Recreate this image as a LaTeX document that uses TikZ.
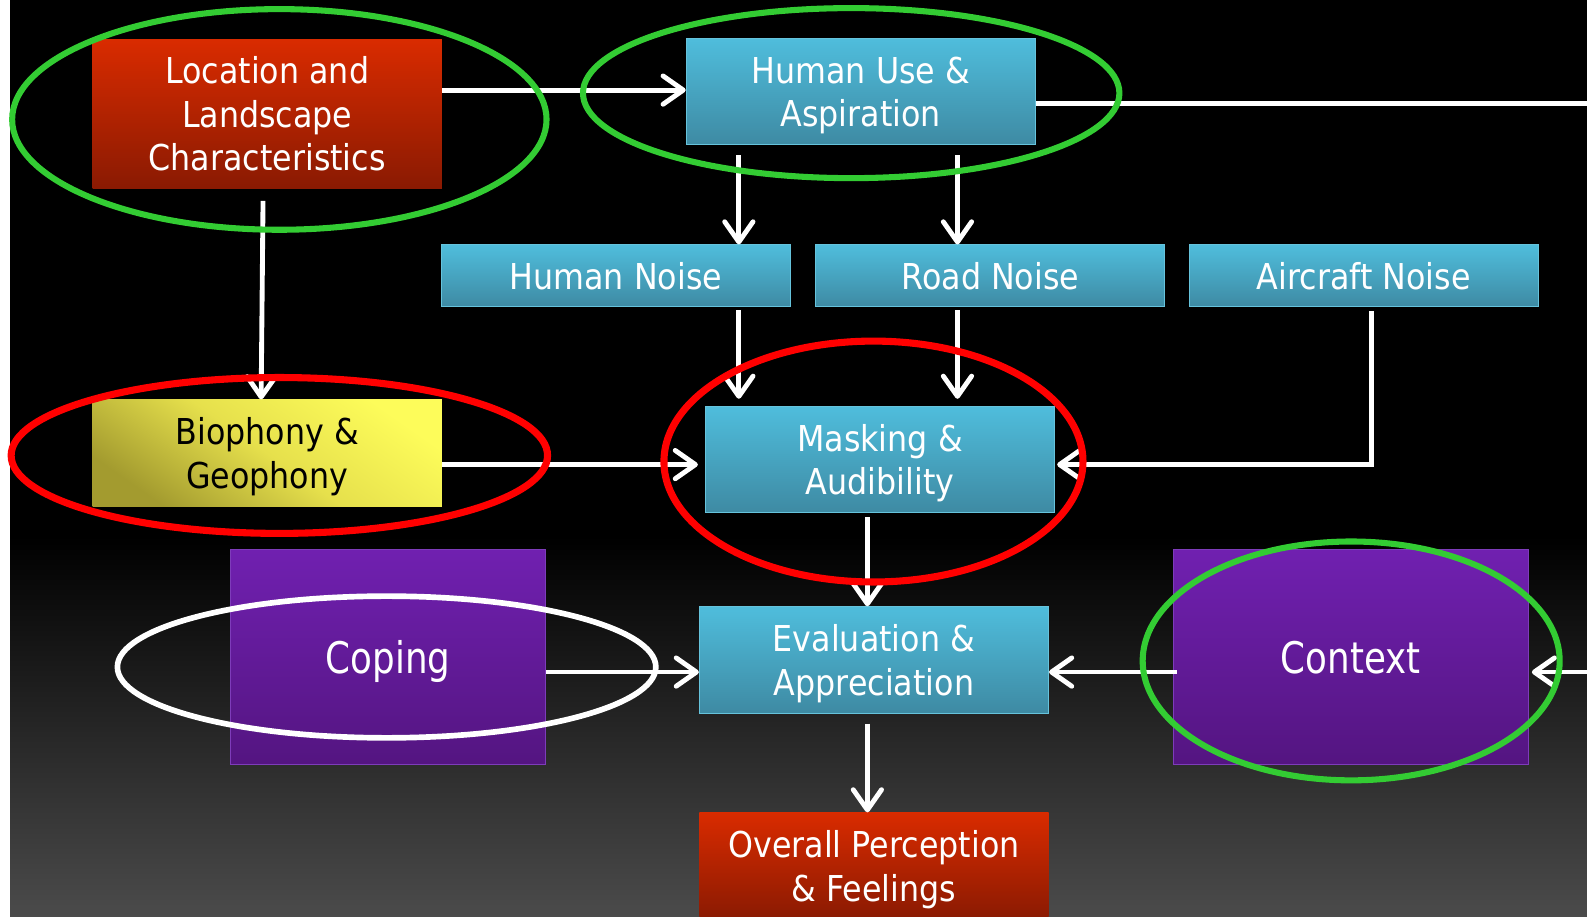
\documentclass[tikz,border=0pt]{standalone}
\usepackage{fontspec}
\setmainfont{DejaVu Sans}[FakeStretch=0.89]
\newfontfamily\bigfont{DejaVu Sans}[FakeStretch=0.82]
\usetikzlibrary{arrows.meta}
\definecolor{redtop}{HTML}{D92B00}
\definecolor{redbot}{HTML}{8A1A02}
\definecolor{bluetop}{HTML}{4FBDDC}
\definecolor{bluebot}{HTML}{3E8AA3}
\definecolor{blueedge}{HTML}{66C3DC}
\definecolor{purtop}{HTML}{7020B0}
\definecolor{purbot}{HTML}{541581}
\definecolor{puredge}{HTML}{7E3CBA}
\definecolor{yellight}{HTML}{FDFC5A}
\definecolor{yelmid}{HTML}{E6E04C}
\definecolor{yeldark}{HTML}{A39B2F}
\definecolor{ringgreen}{HTML}{33CC33}
\definecolor{ringred}{HTML}{FF0000}
\definecolor{bggray}{HTML}{4B4B4B}
\tikzset{
  box/.style={minimum width=172.5pt, minimum height=52.5pt, inner sep=0pt, text depth=0pt,
    align=center, text=white, font=\fontsize{17.6}{21.5}\selectfont},
  bluebox/.style={box, top color=bluetop, bottom color=bluebot, draw=blueedge, line width=0.5pt},
  redbox/.style={box, top color=redtop, bottom color=redbot},
  yelbox/.style={box, text=black, top color=yellight, bottom color=yeldark, middle color=yelmid, shading angle=-35},
  purbox/.style={box, top color=purtop, bottom color=purbot, draw=puredge, line width=0.5pt,
    minimum height=106pt, font=\bigfont\fontsize{21.5}{25}\selectfont},
  conn/.style={draw=white, line width=2.4pt},
  arr/.style={conn, -{Straight Barb[length=10pt,width=14pt,round]}},
  ring/.style={line width=3pt}
}
\begin{document}
\begin{tikzpicture}[x=0.5pt,y=-0.5pt]
\useasboundingbox (0,0) rectangle (1568,906);
% background
\fill[black] (0,0) rectangle (1568,906);
\shade[top color=black, bottom color=bggray] (0,530) rectangle (1568,906);
\fill[white] (0,0) rectangle (10,906);
% boxes
\node[redbox, minimum height=73.5pt] (loc) at (264,112.5) {Location and\\Landscape\\Characteristics};
\node[bluebox] (hu) at (850.5,90.5) {Human Use \&\\Aspiration};
\node[bluebox, minimum height=30.5pt] (hn) at (608.5,272.5) {Human Noise};
\node[bluebox, minimum height=30.5pt] (rn) at (978.5,272.5) {Road Noise};
\node[bluebox, minimum height=30.5pt] (an) at (1347.5,272.5) {Aircraft Noise};
\node[yelbox] (bio) at (264,447.5) {Biophony \&\\Geophony};
\node[bluebox] (mask) at (869.5,454) {Masking \&\\Audibility};
\node[purbox, minimum width=155.5pt] (cop) at (383.5,649) {Coping};
\node[bluebox] (eva) at (863.5,652) {Evaluation \&\\Appreciation};
\node[purbox, minimum width=175.5pt] (ctx) at (1334.5,649) {Context};
\node[redbox] (ovr) at (863.5,855.5) {Overall Perception\\\& Feelings};
% free ends at the right edge
\coordinate (outA) at (1580,102);
\coordinate (outB) at (1580,664);
% connectors
\draw[arr] (loc.east |- 0,89) -- (hu.west |- 0,89);
\draw[conn] (hu.east |- 0,102) -- (outA);
\draw[arr, shorten <=6pt] (260,0 |- loc.south) -- (258,0 |- bio.north);
\draw[arr, shorten <=5pt] (730,0 |- hu.south) -- (730,0 |- hn.north);
\draw[arr, shorten <=5pt] (946,0 |- hu.south) -- (946,0 |- rn.north);
\draw[arr, shorten <=1.5pt, shorten >=3.5pt] (730,0 |- hn.south) -- (730,0 |- mask.north);
\draw[arr, shorten <=1.5pt, shorten >=3.5pt] (946,0 |- rn.south) -- (946,0 |- mask.north);
\draw[arr, shorten <=2pt, shorten >=1pt] (1355,0 |- an.south) -- (1355,459) -- (mask.east |- 0,459);
\draw[arr, shorten >=3.5pt] (bio.east |- 0,459) -- (mask.west |- 0,459);
\draw[arr, shorten <=2pt] (857,0 |- mask.south) -- (857,0 |- eva.north);
\draw[arr] (cop.east |- 0,664) -- (eva.west |- 0,664);
\draw[arr, shorten <=-2pt] (ctx.west |- 0,664) -- (eva.east |- 0,664);
\draw[arr, shorten >=1.5pt] (outB) -- (ctx.east |- 0,664);
\draw[arr, shorten <=5pt] (857,0 |- eva.south) -- (857,0 |- ovr.north);
% highlight rings
\draw[ring, ringgreen] (276,118) ellipse [x radius=132pt, y radius=54.5pt];
\draw[ring, ringgreen] (841,92) ellipse [x radius=132.5pt, y radius=42pt];
\draw[ring, ringred, line width=3.5pt] (276,450) ellipse [x radius=132.5pt, y radius=38.5pt];
\draw[ring, ringred, line width=3.5pt] (863,456) ellipse [x radius=103.5pt, y radius=59.5pt];
\draw[ring, white, line width=2.8pt] (382,659) ellipse [x radius=133pt, y radius=35pt];
\draw[ring, ringgreen] (1335,653) ellipse [x radius=103pt, y radius=59pt];
\end{tikzpicture}
\end{document}
